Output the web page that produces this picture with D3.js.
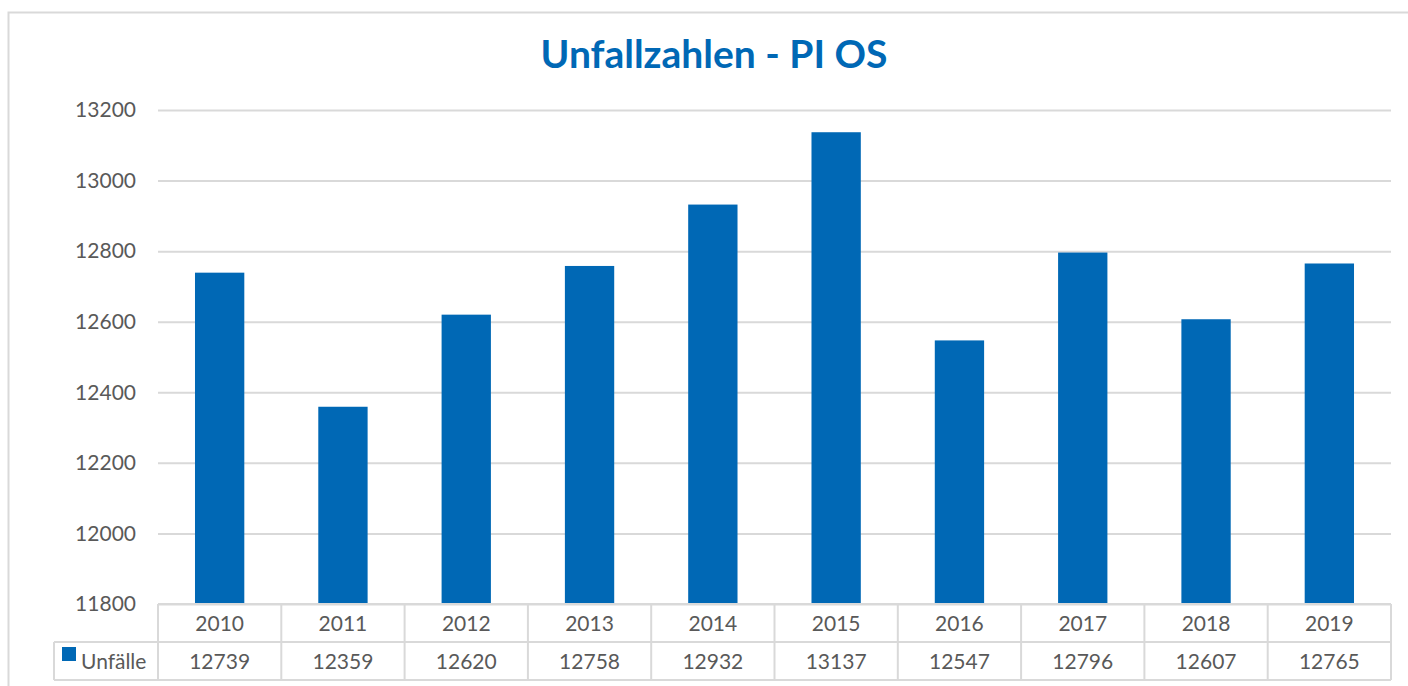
<!DOCTYPE html>
<html>
<head>
<meta charset="utf-8">
<script src="https://cdn.jsdelivr.net/npm/d3@7"></script>
<style>
  body { margin: 0; background: #fff; }
  svg { display: block; font-family: Lato, "Open Sans", sans-serif; }
</style>
</head>
<body>
<div id="chart"></div>
<script>
// data
const years = ["2010", "2011", "2012", "2013", "2014", "2015", "2016", "2017", "2018", "2019"];
const unfaelle = [12739, 12359, 12620, 12758, 12932, 13137, 12547, 12796, 12607, 12765];
const yTicks = [11800, 12000, 12200, 12400, 12600, 12800, 13000, 13200];
const seriesName = "Unfälle";
const title = "Unfallzahlen - PI OS";

const W = 1408, H = 686;
const blue = "#0068b5", grid = "#d9d9d9", textCol = "#595959";
const fs = 21;

const plot = {left: 158, right: 1391, top: 110, bottom: 604};
const rowH = 38;
const legendLeft = 54;

const svg = d3.select("#chart").append("svg")
    .attr("width", W)
    .attr("height", H);

// outer chart border
svg.append("rect")
    .attr("x", 8.5).attr("y", 12.5)
    .attr("width", 1430).attr("height", 700)
    .attr("fill", "none")
    .attr("stroke", grid)
    .attr("stroke-width", 2);

// title
svg.append("text")
    .attr("x", 714).attr("y", 68)
    .attr("text-anchor", "middle")
    .attr("font-size", 39)
    .attr("font-weight", "bold")
    .attr("fill", blue)
    .text(title);

// scales
let x = d3.scaleBand()
    .domain(years)
    .range([plot.left, plot.right])
    .paddingInner(0.6)
    .paddingOuter(0.3);

let y = d3.scaleLinear()
    .domain([11800, 13200])
    .range([plot.bottom, plot.top]);

// y axis with gridlines
let yAxis = d3.axisLeft(y)
    .tickValues(yTicks)
    .tickSize(-(plot.right - plot.left))
    .tickPadding(22)
    .tickFormat(d3.format("d"));

let yG = svg.append("g")
    .attr("transform", "translate(" + plot.left + ",0)")
    .call(yAxis);
yG.select(".domain").remove();
yG.selectAll(".tick line").attr("stroke", grid).attr("stroke-width", 2);
yG.selectAll(".tick text")
    .attr("fill", textCol)
    .attr("font-size", fs)
    .attr("font-family", "Lato, sans-serif");

// bars
svg.selectAll("rect.bar")
    .data(years)
    .enter().append("rect")
    .attr("class", "bar")
    .attr("x", d => x(d))
    .attr("width", x.bandwidth())
    .attr("y", (d, i) => y(unfaelle[i]))
    .attr("height", (d, i) => y(11800) - y(unfaelle[i]))
    .attr("fill", blue);

// data table under the plot
let step = x.step();
let cellLeft = d => plot.left + years.indexOf(d) * step;
let tbl = svg.append("g")
    .attr("stroke", grid)
    .attr("stroke-width", 2)
    .attr("fill", "none");

// horizontal lines
tbl.append("line").attr("x1", plot.left).attr("x2", plot.right)
    .attr("y1", plot.bottom).attr("y2", plot.bottom);
tbl.append("line").attr("x1", legendLeft).attr("x2", plot.right)
    .attr("y1", plot.bottom + rowH).attr("y2", plot.bottom + rowH);
tbl.append("line").attr("x1", legendLeft).attr("x2", plot.right)
    .attr("y1", plot.bottom + 2 * rowH).attr("y2", plot.bottom + 2 * rowH);

// vertical lines
tbl.selectAll("line.col")
    .data(years.concat(["end"]))
    .enter().append("line")
    .attr("class", "col")
    .attr("x1", (d, i) => plot.left + i * step)
    .attr("x2", (d, i) => plot.left + i * step)
    .attr("y1", plot.bottom)
    .attr("y2", plot.bottom + 2 * rowH);
tbl.append("line").attr("x1", legendLeft).attr("x2", legendLeft)
    .attr("y1", plot.bottom + rowH).attr("y2", plot.bottom + 2 * rowH);

// year labels
svg.selectAll("text.year")
    .data(years)
    .enter().append("text")
    .attr("class", "year")
    .attr("x", d => cellLeft(d) + step / 2)
    .attr("y", plot.bottom + 27)
    .attr("text-anchor", "middle")
    .attr("font-size", fs)
    .attr("fill", textCol)
    .text(d => d);

// values row
svg.selectAll("text.val")
    .data(unfaelle)
    .enter().append("text")
    .attr("class", "val")
    .attr("x", (d, i) => plot.left + i * step + step / 2)
    .attr("y", plot.bottom + rowH + 27)
    .attr("text-anchor", "middle")
    .attr("font-size", fs)
    .attr("fill", textCol)
    .text(d => d);

// legend key in table
svg.append("rect")
    .attr("x", 62).attr("y", plot.bottom + rowH + 5)
    .attr("width", 14).attr("height", 14)
    .attr("fill", blue);
svg.append("text")
    .attr("x", 81)
    .attr("y", plot.bottom + rowH + 27)
    .attr("font-size", fs)
    .attr("fill", textCol)
    .text(seriesName);
</script>
</body>
</html>
